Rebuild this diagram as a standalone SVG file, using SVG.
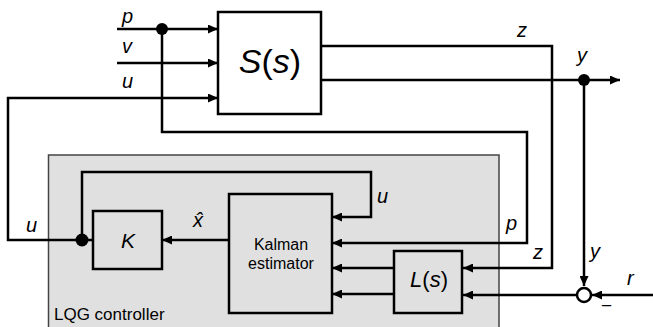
<svg xmlns="http://www.w3.org/2000/svg" width="653" height="327" viewBox="0 0 653 327">
<style>
.ln{fill:none;stroke:#000;stroke-width:2.5}
.bx{fill:none;stroke:#000;stroke-width:2.5}
.lb{font-family:"Liberation Sans",Arial,sans-serif;font-style:italic;font-size:20px;fill:#000}
.tx{font-family:"Liberation Sans",Arial,sans-serif;fill:#000}
.it{font-style:italic}
</style>
<defs>
<marker id="arr" markerUnits="userSpaceOnUse" markerWidth="10" markerHeight="9" refX="10" refY="4.5" orient="auto">
<path d="M0,0 L10,4.5 L0,9 z" fill="#000"/>
</marker>
</defs>
<rect width="653" height="327" fill="#fff"/>
<g id="lqg-controller">
<rect x="48.5" y="155" width="450.5" height="180" fill="#e0e0e0" stroke="#444" stroke-width="1.5"/>
<text class="tx" x="54" y="320" font-size="17">LQG controller</text>
</g>
<g id="connectors">
<path class="ln" d="M117,29 H218" marker-end="url(#arr)"/>
<path class="ln" d="M117,63 H218" marker-end="url(#arr)"/>
<path class="ln" d="M82,240 H8 V98 H218" marker-end="url(#arr)"/>
<path class="ln" d="M162,29 V132 H527 V243 H332" marker-end="url(#arr)"/>
<path class="ln" d="M321,46 H552 V268 H463" marker-end="url(#arr)"/>
<path class="ln" d="M321,80 H620" marker-end="url(#arr)"/>
<path class="ln" d="M584,80 V286" marker-end="url(#arr)"/>
<path class="ln" d="M653,295 H592" marker-end="url(#arr)"/>
<path class="ln" d="M576,295 H463" marker-end="url(#arr)"/>
<path class="ln" d="M394,268 H332" marker-end="url(#arr)"/>
<path class="ln" d="M394,294 H332" marker-end="url(#arr)"/>
<path class="ln" d="M229,240 H162" marker-end="url(#arr)"/>
<path class="ln" d="M93,240 H82"/>
<path class="ln" d="M82,240 V172 H371 V217 H332" marker-end="url(#arr)"/>
</g>
<g id="junction-p"><circle cx="162" cy="29" r="6" fill="#000"/></g>
<g id="junction-y"><circle cx="584" cy="80" r="6" fill="#000"/></g>
<g id="junction-u"><circle cx="82" cy="240" r="6.5" fill="#000"/></g>
<g id="plant-S">
<rect class="bx" x="218" y="12" width="103" height="102" fill="#fff"/>
<text class="tx" x="270" y="73" font-size="34" text-anchor="middle"><tspan class="it">S</tspan>(<tspan class="it">s</tspan>)</text>
</g>
<g id="gain-K">
<rect class="bx" x="93" y="211" width="69" height="58"/>
<text class="tx it" x="128" y="248" font-size="21" text-anchor="middle">K</text>
</g>
<g id="kalman">
<rect class="bx" x="229" y="194" width="103" height="119"/>
<text class="tx" x="281" y="250" font-size="16" text-anchor="middle">Kalman</text>
<text class="tx" x="281" y="269" font-size="16" text-anchor="middle">estimator</text>
</g>
<g id="filter-L">
<rect class="bx" x="394" y="251" width="68" height="62"/>
<text class="tx" x="429" y="287" font-size="22" text-anchor="middle"><tspan class="it">L</tspan>(<tspan class="it">s</tspan>)</text>
</g>
<g id="sum">
<circle cx="584" cy="295" r="7" fill="#fff" stroke="#000" stroke-width="2.5"/>
<text class="tx" x="601" y="312" font-size="19">−</text>
</g>
<g id="labels">
<text class="lb" x="122" y="23">p</text>
<text class="lb" x="122" y="53">v</text>
<text class="lb" x="122" y="88">u</text>
<text class="lb" x="517" y="37">z</text>
<text class="lb" x="577" y="62">y</text>
<text class="lb" x="26" y="232">u</text>
<text class="lb" x="377" y="203">u</text>
<text class="lb" x="506" y="230">p</text>
<text class="lb" x="533" y="259">z</text>
<text class="lb" x="590" y="258">y</text>
<text class="lb" x="627" y="285">r</text>
<text class="lb" x="193" y="227">x̂</text>
</g>
</svg>
